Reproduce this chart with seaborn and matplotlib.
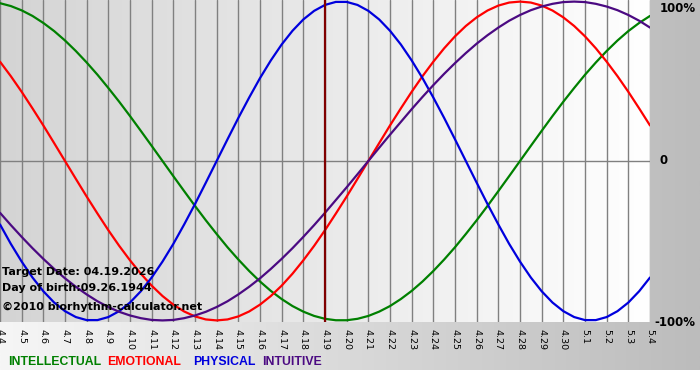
import numpy as np
import pandas as pd
import matplotlib
matplotlib.use('Agg')
import matplotlib.pyplot as plt
import seaborn as sns
from matplotlib.colors import LinearSegmentedColormap

# day labels on the x axis (4.4 .. 5.4)
day_labels = ['4.4', '4.5', '4.6', '4.7', '4.8', '4.9', '4.10', '4.11', '4.12', '4.13',
              '4.14', '4.15', '4.16', '4.17', '4.18', '4.19', '4.20', '4.21', '4.22', '4.23',
              '4.24', '4.25', '4.26', '4.27', '4.28', '4.29', '4.30', '5.1', '5.2', '5.3', '5.4']

sample_days = np.arange(0, 30.5, 0.5)
intellectual = [0.990, 0.972, 0.945, 0.910, 0.866, 0.815, 0.756, 0.690, 0.618, 0.541,
                0.458, 0.372, 0.282, 0.189, 0.095, 0.000, -0.095, -0.189, -0.282, -0.372,
                -0.458, -0.541, -0.618, -0.690, -0.756, -0.815, -0.866, -0.910, -0.945, -0.972,
                -0.990, -0.999, -0.999, -0.990, -0.972, -0.945, -0.910, -0.866, -0.815, -0.756,
                -0.690, -0.618, -0.541, -0.458, -0.372, -0.282, -0.189, -0.095, 0.000, 0.095,
                0.189, 0.282, 0.372, 0.458, 0.541, 0.618, 0.690, 0.756, 0.815, 0.866, 0.910]
emotional = [0.623, 0.532, 0.434, 0.330, 0.223, 0.112, 0.000, -0.112, -0.223, -0.330,
             -0.434, -0.532, -0.623, -0.707, -0.782, -0.847, -0.901, -0.944, -0.975, -0.994,
             -1.000, -0.994, -0.975, -0.944, -0.901, -0.847, -0.782, -0.707, -0.623, -0.532,
             -0.434, -0.330, -0.223, -0.112, 0.000, 0.112, 0.223, 0.330, 0.434, 0.532,
             0.623, 0.707, 0.782, 0.847, 0.901, 0.944, 0.975, 0.994, 1.000, 0.994,
             0.975, 0.944, 0.901, 0.847, 0.782, 0.707, 0.623, 0.532, 0.434, 0.330, 0.223]
physical = [-0.398, -0.520, -0.631, -0.731, -0.817, -0.888, -0.942, -0.979, -0.998, -0.998,
            -0.979, -0.942, -0.888, -0.817, -0.731, -0.631, -0.520, -0.398, -0.270, -0.136,
            0.000, 0.136, 0.270, 0.398, 0.520, 0.631, 0.731, 0.817, 0.888, 0.942,
            0.979, 0.998, 0.998, 0.979, 0.942, 0.888, 0.817, 0.731, 0.631, 0.520,
            0.398, 0.270, 0.136, 0.000, -0.136, -0.270, -0.398, -0.520, -0.631, -0.731,
            -0.817, -0.888, -0.942, -0.979, -0.998, -0.998, -0.979, -0.942, -0.888, -0.817, -0.731]
intuitive = [-0.325, -0.402, -0.476, -0.547, -0.614, -0.677, -0.736, -0.789, -0.837, -0.880,
             -0.916, -0.946, -0.969, -0.986, -0.997, -1.000, -0.997, -0.986, -0.969, -0.946,
             -0.916, -0.880, -0.837, -0.789, -0.736, -0.677, -0.614, -0.547, -0.476, -0.402,
             -0.325, -0.245, -0.165, -0.083, 0.000, 0.083, 0.165, 0.245, 0.325, 0.402,
             0.476, 0.547, 0.614, 0.677, 0.736, 0.789, 0.837, 0.880, 0.916, 0.946,
             0.969, 0.986, 0.997, 1.000, 0.997, 0.986, 0.969, 0.946, 0.916, 0.880, 0.837]

cycle_names = ['INTELLECTUAL', 'EMOTIONAL', 'PHYSICAL', 'INTUITIVE']
cycle_colors = ['#008000', '#ff0000', '#0000dd', '#4b0a82']
target_label = '4.19'

sns.set_style('white')
plt.rcParams['font.family'] = ['DejaVu Sans']
plt.rcParams['text.color'] = 'black'
plt.rcParams['xtick.color'] = 'black'
plt.rcParams['xtick.labelcolor'] = 'black'

df = pd.DataFrame({'day': sample_days,
                   'INTELLECTUAL': intellectual,
                   'EMOTIONAL': emotional,
                   'PHYSICAL': physical,
                   'INTUITIVE': intuitive})
long_df = df.melt(id_vars='day', var_name='cycle', value_name='value')

W, H = 700, 380
fig = plt.figure(figsize=(7, 3.8), dpi=100, facecolor='white')

# grey background gradient behind everything
bg = fig.add_axes([0, 0, 1, 1], zorder=0)
grad = np.linspace(0, 1, 256).reshape(1, -1)
bg.imshow(grad, aspect='auto', cmap=LinearSegmentedColormap.from_list('bg', ['#f6f6f6', '#bcbcbc']),
          extent=[0, 1, 10 / H, 1])
bg.set_xlim(0, 1)
bg.set_ylim(0, 1)
bg.axis('off')

# plot area
ax = fig.add_axes([0, 58 / H, 650 / W, 322 / H], zorder=1)
n = len(day_labels) - 1
ax.imshow(grad, aspect='auto', cmap=LinearSegmentedColormap.from_list('pl', ['#d4d4d4', '#ffffff']),
          extent=[0, n, -1.01, 1.01], zorder=0)

sns.lineplot(data=long_df, x='day', y='value', hue='cycle', hue_order=cycle_names,
             palette=dict(zip(cycle_names, cycle_colors)), linewidth=1.6,
             legend=False, ax=ax, zorder=3)

ax.set_xlim(0, n)
ax.set_ylim(-1.01, 1.01)
ax.set_xticks(range(len(day_labels)))
ax.set_xticklabels(day_labels, rotation=-90, fontsize=6.8)
ax.set_yticks([])
ax.tick_params(axis='x', length=0, pad=5)
ax.grid(axis='x', color='#808080', linewidth=1)
ax.axhline(0, color='#808080', linewidth=1, zorder=1)
ax.axvline(day_labels.index(target_label), color='#800000', linewidth=1.6, zorder=4)
ax.set_xlabel('')
ax.set_ylabel('')
for s in ax.spines.values():
    s.set_visible(False)

# right-hand percent labels
fig.text(660 / W, 1 - 9 / H, '100%', fontsize=8.5, fontweight='bold', va='center')
fig.text(660 / W, 1 - 161 / H, '0', fontsize=8.5, fontweight='bold', va='center')
fig.text(654 / W, 1 - 322 / H, '-100%', fontsize=8.5, fontweight='bold', va='center')

# info text lower left
fig.text(2 / W, 1 - 272 / H, 'Target Date: 04.19.2026', fontsize=8, fontweight='bold', va='center', zorder=5)
fig.text(2 / W, 1 - 288 / H, 'Day of birth:09.26.1944', fontsize=8, fontweight='bold', va='center', zorder=5)
fig.text(2 / W, 1 - 307 / H, '\u00a92010 biorhythm-calculator.net', fontsize=8, fontweight='bold', va='center', zorder=5)

# colour legend along the bottom
legend_x = [8, 107, 193, 262]
for name, color, x in zip(cycle_names, cycle_colors, legend_x):
    fig.text(x / W, 1 - 362 / H, name, color=color, fontsize=8.8, fontweight='bold',
             family=['Liberation Sans', 'DejaVu Sans'], va='center')

fig.savefig('out.png', dpi=100, facecolor='white')
